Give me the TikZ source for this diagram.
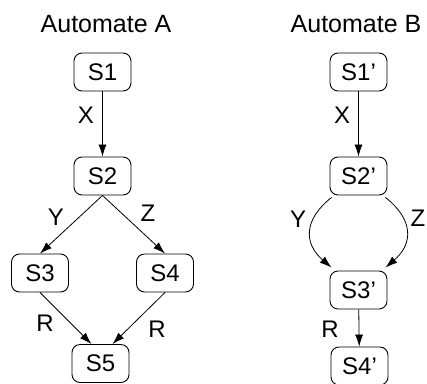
\documentclass[tikz,border=0pt]{standalone}
\usepackage{fontspec}
\setmainfont{Liberation Sans}
\usetikzlibrary{arrows.meta}
\begin{document}
\begin{tikzpicture}[x=1pt,y=-1pt,
  state/.style={draw,line width=0.9pt,rounded corners=8pt,minimum width=57pt,minimum height=38pt,inner sep=0pt,font=\fontsize{24}{24}\selectfont},
  lbl/.style={inner sep=0pt,font=\fontsize{24}{24}\selectfont},
  ttl/.style={inner sep=0pt,font=\fontsize{25}{25}\selectfont},
  edge/.style={draw,line width=0.8pt,-{Latex[length=12pt,width=8pt]}}]
\useasboundingbox (0,0) rectangle (427,383);
% titles
\node[ttl] (ta) at (106,24) {Automate A};
\node[ttl] (tb) at (356,24) {Automate B};
% automaton A
\node[state] (s1) at (102.5,72) {S1};
\node[state] (s2) at (102.5,176) {S2};
\node[state] (s3) at (40,273) {S3};
\node[state] (s4) at (165,273) {S4};
\node[state] (s5) at (100.5,363.5) {S5};
\path[edge] (s1) -- (s2);
\path[edge] (s2.south) -- (s3.north);
\path[edge] (s2.south) -- (s4.north);
\path[edge] (s3.south) -- ([xshift=-9pt]s5.north);
\path[edge] (s4.south) -- ([xshift=12pt]s5.north);
\node[lbl] (lx) at (86,115) {X};
\node[lbl] (ly) at (56,217) {Y};
\node[lbl] (lz) at (148,213) {Z};
\node[lbl] (lr1) at (45,323) {R};
\node[lbl] (lr2) at (157,329) {R};
% automaton B
\node[state] (b1) at (358.5,72) {S1’};
\node[state] (b2) at (358.5,176) {S2’};
\node[state] (b3) at (358.5,290) {S3’};
\node[state] (b4) at (359.5,366) {S4’};
\path[edge] (b1) -- (b2);
\path[edge] ([xshift=2pt,yshift=-2pt]b2.south west) .. controls +(-28,22) and +(-28,-24) .. ([xshift=2pt,yshift=3pt]b3.north west);
\path[edge] ([xshift=-2pt,yshift=-2pt]b2.south east) .. controls +(28,22) and +(28,-24) .. ([xshift=-2pt,yshift=3pt]b3.north east);
\path[edge] (b3) -- (b4);
\node[lbl] (bx) at (342,115) {X};
\node[lbl] (by) at (298,219) {Y};
\node[lbl] (bz) at (418,218) {Z};
\node[lbl] (br) at (330,329) {R};
\end{tikzpicture}
\end{document}
